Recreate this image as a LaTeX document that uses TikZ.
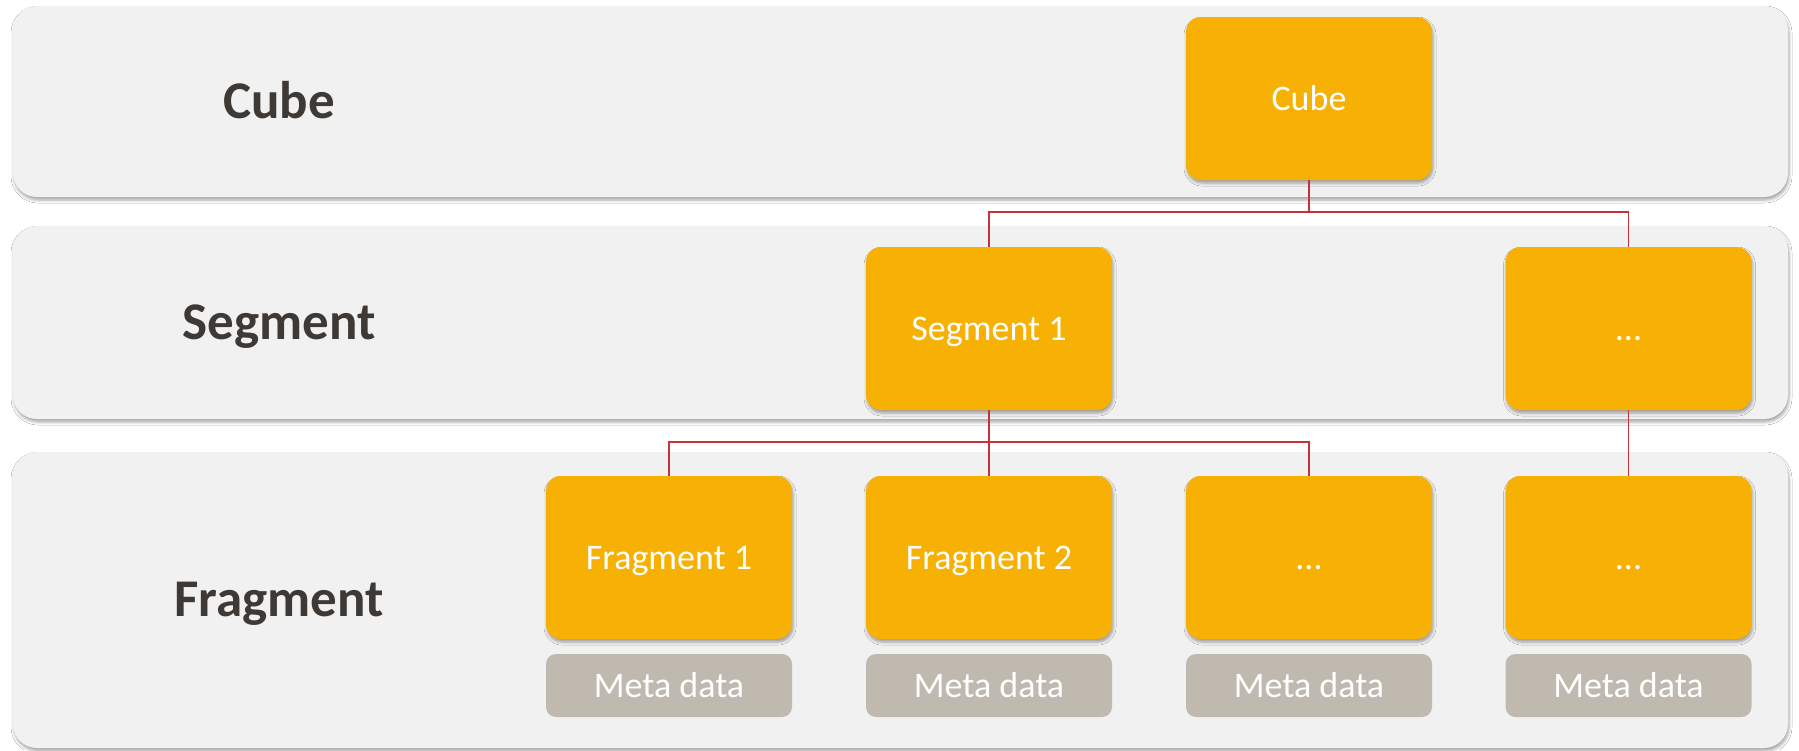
\documentclass[tikz,border=0pt]{standalone}
\usepackage{fontspec}
\setmainfont{Carlito}
\usetikzlibrary{shadows.blur}
\definecolor{bandgray}{HTML}{F1F1F1}
\definecolor{boxorange}{HTML}{F6B104}
\definecolor{metagray}{HTML}{BFB9AF}
\definecolor{labeldark}{HTML}{3E3935}
\definecolor{linkred}{HTML}{C8303C}
\begin{document}
\begin{tikzpicture}[x=1pt,y=-1pt,
  softshadow/.style={blur shadow={shadow xshift=1pt, shadow yshift=-3pt,
      shadow blur radius=3pt, shadow opacity=35}},
  band/.style={fill=bandgray, rounded corners=24pt, softshadow},
  levellabel/.style={text=labeldark, font=\fontsize{53}{64}\selectfont\bfseries,
      text height=33.5pt, text depth=0pt, inner sep=0pt},
  unitbox/.style={fill=boxorange, rounded corners=15pt, softshadow,
      minimum width=246pt, minimum height=163pt, inner sep=0pt, text=white,
      font=\fontsize{36}{43}\selectfont, text height=23pt, text depth=0pt},
  metabox/.style={fill=metagray, rounded corners=10pt,
      minimum width=246pt, minimum height=63pt, inner sep=0pt, text=white,
      font=\fontsize{36}{43}\selectfont, text height=23pt, text depth=0pt},
  link/.style={draw=linkred, line width=1.6pt}
]
% canvas
\fill[white] (0,0) rectangle (1799,750);
\useasboundingbox (0,0) rectangle (1799,750);

% level bands
\path[band] (13,6) rectangle (1788,197);
\path[band] (13,226) rectangle (1788,419);
\path[band] (13,452) rectangle (1788,748);

% level names
\node[levellabel] (lblcube) at (279,101.5) {Cube};
\node[levellabel] (lblseg) at (279,322.5) {Segment};
\node[levellabel] (lblfrag) at (279,600) {Fragment};

% bus heights for the connectors
\coordinate (busA) at (0,212);
\coordinate (busB) at (0,442);

% boxes
\node[unitbox] (cube) at (1309,98.5) {Cube};
\node[unitbox] (seg1) at (989,328.5) {Segment 1};
\node[unitbox] (segn) at (1628.5,328.5) {...};
\node[unitbox] (frag1) at (669,557.5) {Fragment 1};
\node[unitbox] (frag2) at (989,557.5) {Fragment 2};
\node[unitbox] (frag3) at (1309,557.5) {...};
\node[unitbox] (fragn) at (1628.5,557.5) {...};
\node[metabox] (meta1) at (669,685.5) {Meta data};
\node[metabox] (meta2) at (989,685.5) {Meta data};
\node[metabox] (meta3) at (1309,685.5) {Meta data};
\node[metabox] (metan) at (1628.5,685.5) {Meta data};

% cube to segments
\draw[link] (cube.south) -- (cube.south |- busA);
\draw[link] (seg1.north) -- (seg1.north |- busA) -- (segn.north |- busA) -- (segn.north);
% segment 1 to its fragments
\draw[link] (seg1.south) -- (seg1.south |- busB);
\draw[link] (frag1.north) -- (frag1.north |- busB) -- (frag3.north |- busB) -- (frag3.north);
\draw[link] (frag2.north) -- (frag2.north |- busB);
% last segment to its fragment
\draw[link] (segn.south) -- (fragn.north);
\end{tikzpicture}
\end{document}
